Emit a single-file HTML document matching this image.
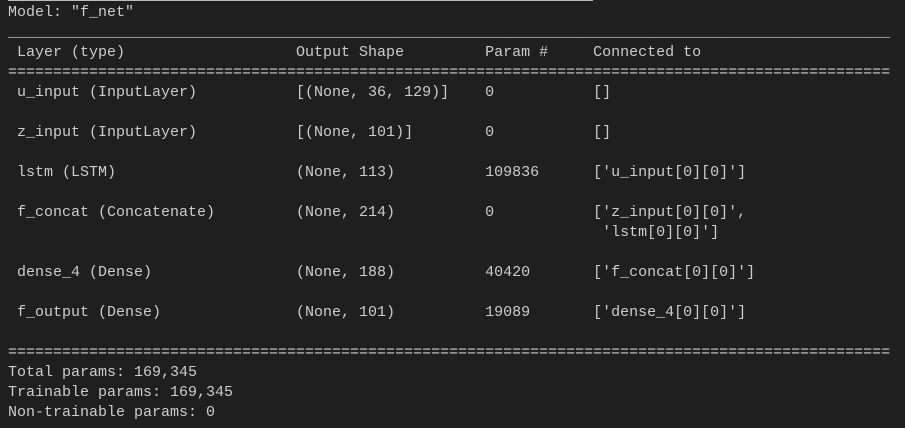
<!DOCTYPE html>
<html><head><style>
html,body{margin:0;padding:0;background:#1f1f1f;width:905px;height:428px;overflow:hidden}
#t{position:absolute;left:8px;top:-17px;font-family:"Liberation Mono",monospace;font-size:15px;line-height:20px;color:#cccccc;white-space:pre}
.r{height:20px}
.r span{display:inline-block}
.a{width:32ch}.b{width:21ch}.c{width:12ch}
#tl{position:absolute;left:8px;top:0;width:585px;height:1px;background:#bbbbbb}
</style></head><body>
<div id="tl"></div>
<div id="t"><div class="r"> </div><div class="r">Model: "f_net"</div><div class="r">__________________________________________________________________________________________________</div><div class="r"><span class="a"> Layer (type)</span><span class="b">Output Shape</span><span class="c">Param #</span><span>Connected to</span></div><div class="r">==================================================================================================</div><div class="r"><span class="a"> u_input (InputLayer)</span><span class="b">[(None, 36, 129)]</span><span class="c">0</span><span>[]</span></div><div class="r"> </div><div class="r"><span class="a"> z_input (InputLayer)</span><span class="b">[(None, 101)]</span><span class="c">0</span><span>[]</span></div><div class="r"> </div><div class="r"><span class="a"> lstm (LSTM)</span><span class="b">(None, 113)</span><span class="c">109836</span><span>['u_input[0][0]']</span></div><div class="r"> </div><div class="r"><span class="a"> f_concat (Concatenate)</span><span class="b">(None, 214)</span><span class="c">0</span><span>['z_input[0][0]',</span></div><div class="r"><span class="a"></span><span class="b"></span><span class="c"></span><span> 'lstm[0][0]']</span></div><div class="r"> </div><div class="r"><span class="a"> dense_4 (Dense)</span><span class="b">(None, 188)</span><span class="c">40420</span><span>['f_concat[0][0]']</span></div><div class="r"> </div><div class="r"><span class="a"> f_output (Dense)</span><span class="b">(None, 101)</span><span class="c">19089</span><span>['dense_4[0][0]']</span></div><div class="r"> </div><div class="r">==================================================================================================</div><div class="r">Total params: 169,345</div><div class="r">Trainable params: 169,345</div><div class="r">Non-trainable params: 0</div></div>
</body></html>
